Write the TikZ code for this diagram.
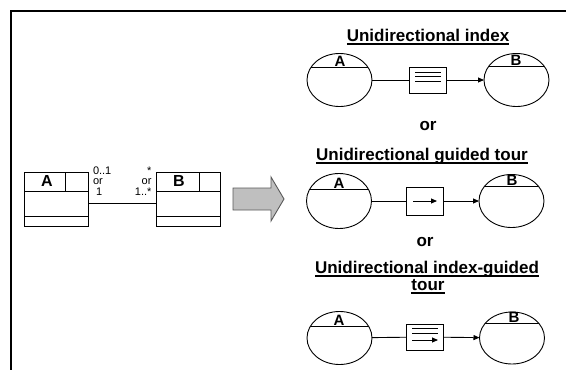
\documentclass[tikz,border=0pt]{standalone}
\usepackage{fontspec}
\setmainfont{Liberation Sans}
\usetikzlibrary{shapes.geometric,arrows.meta}
\begin{document}
\begin{tikzpicture}[x=1pt,y=-1pt,
  every node/.style={inner sep=0pt, outer sep=0pt},
  frame/.style={line width=1.3pt},
  classbox/.style={draw, line width=0.9pt, minimum width=64pt, minimum height=54pt},
  classline/.style={line width=0.9pt},
  classname/.style={font=\bfseries\fontsize{16}{16}\selectfont},
  mult/.style={font=\fontsize{11}{10.5}\selectfont},
  title/.style={font=\bfseries\fontsize{17}{19}\selectfont},
  uline/.style={line width=1.2pt},
  orlabel/.style={font=\bfseries\fontsize{17}{19}\selectfont},
  area/.style={ellipse, draw, line width=0.9pt, minimum width=65pt, minimum height=53pt},
  arealabel/.style={font=\bfseries\fontsize{15}{15}\selectfont},
  linkbox/.style={draw, line width=0.9pt, minimum width=37pt, minimum height=26pt},
  link/.style={line width=0.9pt},
  linkarrow/.style={link, -{Triangle[length=6pt,width=5pt]}},
  bigarrow/.style={fill=black!25, draw=black!65, line width=0.9pt}]

\useasboundingbox (0,0) rectangle (566,370);

% outer frame
\draw[frame] (11,370) -- (11,11) -- (566,11);

% ---------- UML association between classes A and B ----------
\node[classbox] (ca) at (56,199) {};
\node[classbox] (cb) at (188,199) {};
\draw[classline] (24,191) -- (88,191) (24,216) -- (88,216) (65,172) -- (65,191);
\draw[classline] (156,191) -- (220,191) (156,216) -- (220,216) (199,172) -- (199,191);
\node[classname] (cat) at (47,180.5) {A};
\node[classname] (cbt) at (179,180.5) {B};
\draw[link] ([yshift=-4pt]ca.east) -- ([yshift=-4pt]cb.west);
\node[mult, align=left, anchor=north west] (ma) at (93,166.5) {0..1\\or\\\hspace{3pt}1};
\node[mult, align=right, anchor=north east] (mb) at (151.5,166.5) {*\hspace{2.5pt}\\or\\1..*};

% transformation arrow
\draw[bigarrow] (233,188) -- (271,188) -- (271,177) -- (284,199) -- (271,221)
  -- (271,210) -- (233,210) -- cycle;

% ---------- Unidirectional index ----------
\node[title, anchor=base] (t1) at (428,41) {Unidirectional index};
\draw[uline] ([yshift=-3pt]t1.base west) -- ([yshift=-3pt]t1.base east);
\node[area] (ea1) at (339.5,80) {};
\node[area] (eb1) at (516.5,80) {};
\node[linkbox] (b1) at (428,80) {};
\begin{scope}
  \clip (ea1.center) ellipse [x radius=32.5pt, y radius=26.5pt];
  \draw[link] ([yshift=13pt]ea1.west) -- ([yshift=13pt]ea1.east);
\end{scope}
\begin{scope}
  \clip (eb1.center) ellipse [x radius=32.5pt, y radius=26.5pt];
  \draw[link] ([yshift=14pt]eb1.west) -- ([yshift=14pt]eb1.east);
\end{scope}
\node[arealabel, anchor=base] (la1) at (340,66.5) {A};
\node[arealabel, anchor=base] (lb1) at (516,65.5) {B};
\draw[link] ([xshift=-13pt,yshift=8pt]b1.center) -- ([xshift=13pt,yshift=8pt]b1.center)
            ([xshift=-13pt,yshift=3.5pt]b1.center) -- ([xshift=13pt,yshift=3.5pt]b1.center)
            ([xshift=-13pt,yshift=-1.5pt]b1.center) -- ([xshift=13pt,yshift=-1.5pt]b1.center);
\draw[link] (ea1) -- (b1);
\draw[linkarrow] (b1) -- (eb1);
\node[orlabel, anchor=base] (or1) at (428,130) {or};

% ---------- Unidirectional guided tour ----------
\node[title, anchor=base] (t2) at (422,160) {Unidirectional guided tour};
\draw[uline] ([yshift=-3pt]t2.base west) -- ([yshift=-3pt]t2.base east);
\node[area, minimum height=55pt] (ea2) at (339,201) {};
\node[area] (eb2) at (511.5,201) {};
\node[linkbox, minimum height=28pt] (b2) at (425,201) {};
\begin{scope}
  \clip (ea2.center) ellipse [x radius=32.5pt, y radius=27.5pt];
  \draw[link] ([yshift=12pt]ea2.west) -- ([yshift=12pt]ea2.east);
\end{scope}
\begin{scope}
  \clip (eb2.center) ellipse [x radius=32.5pt, y radius=26.5pt];
  \draw[link] ([yshift=15pt]eb2.west) -- ([yshift=15pt]eb2.east);
\end{scope}
\node[arealabel, anchor=base] (la2) at (339,188.5) {A};
\node[arealabel, anchor=base] (lb2) at (512,185.5) {B};
\draw[linkarrow] ([xshift=-12pt]b2.center) -- ([xshift=12pt]b2.center);
\draw[link] (ea2) -- (b2);
\draw[linkarrow] (b2) -- (eb2);
\node[orlabel, anchor=base] (or2) at (425,246) {or};

% ---------- Unidirectional index-guided tour ----------
\node[title, anchor=base] (t3a) at (427,273) {Unidirectional index-guided};
\draw[uline] ([yshift=-3pt]t3a.base west) -- ([yshift=-3pt]t3a.base east);
\node[title, anchor=base] (t3b) at (428,290) {tour};
\draw[uline] ([yshift=-3pt]t3b.base west) -- ([yshift=-3pt]t3b.base east);
\node[area] (ea3) at (339.5,338) {};
\node[area, minimum height=52pt] (eb3) at (512,338) {};
\node[linkbox] (b3) at (425,337) {};
\begin{scope}
  \clip (ea3.center) ellipse [x radius=32.5pt, y radius=26.5pt];
  \draw[link] ([yshift=12pt]ea3.west) -- ([yshift=12pt]ea3.east);
\end{scope}
\begin{scope}
  \clip (eb3.center) ellipse [x radius=32.5pt, y radius=26pt];
  \draw[link] ([yshift=15pt]eb3.west) -- ([yshift=15pt]eb3.east);
\end{scope}
\node[arealabel, anchor=base] (la3) at (339,325.5) {A};
\node[arealabel, anchor=base] (lb3) at (514,322.5) {B};
\draw[link] ([xshift=-13pt,yshift=8.5pt]b3.center) -- ([xshift=13pt,yshift=8.5pt]b3.center)
            ([xshift=-13pt,yshift=3.5pt]b3.center) -- ([xshift=13pt,yshift=3.5pt]b3.center);
\draw[linkarrow] ([xshift=-13pt,yshift=-3pt]b3.center) -- ([xshift=13pt,yshift=-3pt]b3.center);
\draw[link] (ea3) -- (b3);
\draw[linkarrow] (b3) -- (eb3);
\end{tikzpicture}
\end{document}
